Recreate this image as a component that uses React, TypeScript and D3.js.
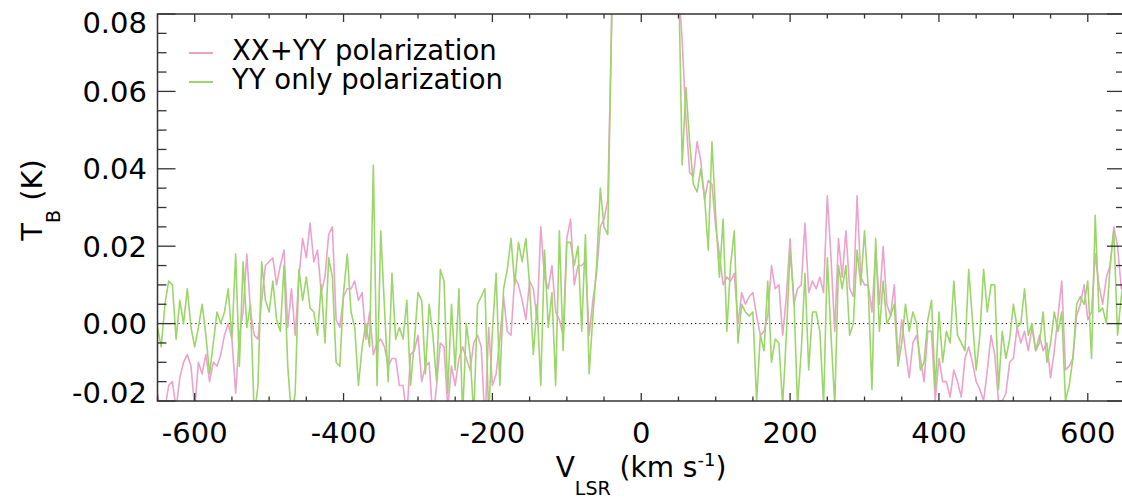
import React from "react";
import * as d3 from "d3";

// Channel grid of the spectra (km/s)
const V_START = -650;
const V_STEP = 5;

// XX+YY polarization brightness temperature, in mK, one value per channel
const xxYyMilliK = [
  -18, -24, -22, -16, -15, -22, -14, -10, -8, -11,
  -22, -10, -13, -8, -15, -10, -11, -8, -3, 0,
  -4, -18, -3, 3, 18, 3, -3, -4, 6, 15,
  16, 17, 10, 15, 19, -1, 9, -3, 12, 22,
  17, 26, 16, 19, 8, 12, 23, 25, 1, -1,
  7, 9, 9, 11, 6, 8, -4, 3, -8, -5,
  -4, -6, -11, -9, -9, -16,
  -16, -24, -8, -7, -3, -15, -11, -10, -25, -16,
  -5, -6, -22, -11, -16, -9, -6, -9, -12, -5,
  -3, -6, -26, -1, -16, -13, -4, 7, -2, -3,
  12, 10, 6, 1, 11, 9, 1, 25,
  12, 9, 15, 3, 1, -3, 22, 27, 10, 15,
  15, 16, -3, 6, 13, 25, 27, 32, 75,
  130, 220, 350, 500, 700, 900, 1050, 1150, 1200, 1150,
  1000, 800, 600, 400, 250, 160, 110, 88,
  73, 53, 39, 38, 47, 42, 32, 37, 36, 25,
  18, 10, 12, 11, 13, 0, 8, 5, 7, 8,
  2, -3, -2, 2, 15, 9, 10, -3, 7, 22,
  5, 9, 10, 26, 8, 11, 9, 12, 8, 33,
  17, -2, 22, 12, 24, 9, 7, 33, 12, 10,
  10, 3, 19,
  5, 20, 5, 2, 10, -9, 1, -7, -14, -5,
  -3, -9, -15, -2, -2, -20, -9, -15, -15, -19,
  -12, -15, -19, -9, -6, -10, -15, -17, -20, -12,
  -3, -8, -20, -20, -18, -10, -9, -1, -5, -2,
  -7, -1, -7, -3, -7, -5, -14, -7, 2, 11,
  -12, -11, -9, 2, 5, 10, 1, 3, 18, 10,
  5, 12, 15, 25, 20, 9, 12,
];

// YY only polarization brightness temperature, in mK, one value per channel
const yyOnlyMilliK = [
  -1, -6, 5, 11, 10, -4, 6, 0, 9, -1,
  -6, -1, 5, -3, -13, -5, 3, 0, 3, 9,
  -4, 18, -11, 16, -1, 5, -24, -16, 16, 6,
  3, 11, 1, -2, 15, -11, -24, -18, 14, 6,
  12, 4, 3, -3, 10, -5, 17, 12, -10, -11,
  8, 18, 3, -1, -16, -6, 0, -6, 41, -16,
  24, 4, -15, 13, -4, -1,
  -4, 6, -16, -5, 8, 6, -13, 5, -3, -15,
  14, 11, -18, 5, -12, 9, -24, 0, -8, -24,
  5, 7, 9, -24, -2, 13, -16, 9, 14, 22,
  10, 21, 16, 22, 10, -8, 5, -16,
  19, -1, 8, -16, 24, -7, 21, 21, 15, 20,
  -2, 23, -13, 2, 15, 35, 25, 23, 77,
  135, 225, 355, 505, 705, 905, 1055, 1155, 1205, 1155,
  1005, 805, 605, 405, 255, 165, 115, 92,
  41, 61, 47, 36, 34, 40, 33, 19, 47, 28,
  12, 27, -2, 15, 24, -5, 5, 3, 2, 3,
  -20, -3, -7, 11, -10, -4, -5, -21, -3, 19,
  7, -21, -7, 13, -12, 3, 3, -2, -21, 17,
  -3, -21, 15, 9, 15, -3, 0, 19, 10, 24,
  9, -17, 22,
  -2, 11, 0, 2, 5, -11, -5, 5, -2, 3,
  0, -12, -10, 1, 6, -17, 3, -10, -2, -5,
  11, -3, -5, -7, 14, 1, -12, -3, 14, 3,
  10, 10, -17, -2, -9, -4, 5, -1, 0, 9,
  -3, 0, -7, -5, 3, -10, -5, 3, -2, 3,
  -20, -16, -9, 5, 7, 5, 11, -9, 28, 3,
  4, 0, 15, 24, -3, 7, 14,
];

const xMajorTicks = [-600, -400, -200, 0, 200, 400, 600];
const yMajorTicks = [-0.02, 0, 0.02, 0.04, 0.06, 0.08];
const yTickLabels = ["-0.02", "0.00", "0.02", "0.04", "0.06", "0.08"];
const seriesNames = ["XX+YY polarization", "YY only polarization"];
const seriesColors = ["#eba3cb", "#9cd66a"];

const FONT = "DejaVu Sans";

export default function App() {
  const W = 1122;
  const H = 504;
  const left = 157.5;
  const right = 1125;
  const top = 14;
  const bottom = 401;

  const x = d3.scaleLinear().domain([-650, 650]).range([left, right]);
  const y = d3.scaleLinear().domain([-0.02, 0.08]).range([bottom, top]);

  const series = [xxYyMilliK, yyOnlyMilliK].map((arr) =>
    arr.map((mk, i) => ({ v: V_START + i * V_STEP, t: mk / 1000 }))
  );

  const line = d3
    .line<{ v: number; t: number }>()
    .x((d) => x(d.v))
    .y((d) => y(d.t));

  const xMinor = d3.range(-650, 651, 50);
  const yMinor = d3.range(0, 21).map((i) => -0.02 + i * 0.005);

  const axisColor = "#333";

  return (
    <svg
      width={W}
      height={H}
      style={{ position: "absolute", left: 0, top: 0, background: "#fff" }}
      fontFamily={FONT}
    >
      <defs>
        <clipPath id="plotClip">
          <rect x={left} y={top} width={right - left} height={bottom - top} />
        </clipPath>
      </defs>

      {/* zero line */}
      <line
        x1={left}
        x2={right}
        y1={y(0)}
        y2={y(0)}
        stroke="#000"
        strokeWidth={1}
        strokeDasharray="1.2,3"
      />

      {/* series */}
      <g clipPath="url(#plotClip)">
        {series.map((s, i) => (
          <path
            key={i}
            d={line(s) || ""}
            fill="none"
            stroke={seriesColors[i]}
            strokeWidth={1.6}
            strokeLinejoin="round"
          />
        ))}
      </g>

      {/* frame */}
      <rect
        x={left}
        y={top}
        width={right - left}
        height={bottom - top}
        fill="none"
        stroke={axisColor}
        strokeWidth={1.5}
      />

      {/* x ticks */}
      {xMinor.map((v) => {
        const major = xMajorTicks.includes(v);
        const len = major ? 8 : 4.5;
        return (
          <g key={"xt" + v}>
            <line x1={x(v)} x2={x(v)} y1={bottom} y2={bottom - len} stroke={axisColor} strokeWidth={1.3} />
            <line x1={x(v)} x2={x(v)} y1={top} y2={top + len} stroke={axisColor} strokeWidth={1.3} />
          </g>
        );
      })}

      {/* y ticks */}
      {yMinor.map((t, i) => {
        const major = i % 4 === 0;
        const len = major ? 18 : 9;
        return (
          <g key={"yt" + i}>
            <line x1={left} x2={left + len} y1={y(t)} y2={y(t)} stroke={axisColor} strokeWidth={1.3} />
            <line x1={right} x2={right - len} y1={y(t)} y2={y(t)} stroke={axisColor} strokeWidth={1.3} />
          </g>
        );
      })}

      {/* x tick labels */}
      {xMajorTicks.map((v) => (
        <text key={"xl" + v} x={x(v)} y={443} textAnchor="middle" fontSize={29} fill="#000">
          {String(v)}
        </text>
      ))}

      {/* y tick labels */}
      {yMajorTicks.map((t, i) => {
        let cy = y(t);
        if (i === yMajorTicks.length - 1) cy += 8.5;
        if (i === 0) cy -= 9;
        return (
          <text key={"yl" + i} x={147} y={cy + 10.5} textAnchor="end" fontSize={29} fill="#000">
            {yTickLabels[i]}
          </text>
        );
      })}

      {/* x title */}
      <text x={641} y={477} textAnchor="middle" fontSize={28} fill="#000">
        V
        <tspan fontSize={19} dy={18}>LSR</tspan>
        <tspan dy={-18}> (km s</tspan>
        <tspan fontSize={18} dy={-11}>-1</tspan>
        <tspan dy={11}>)</tspan>
      </text>

      {/* y title */}
      <text transform="translate(42,200) rotate(-90)" textAnchor="middle" fontSize={29} fill="#000">
        T
        <tspan fontSize={19} dy={18}>B</tspan>
        <tspan dy={-18}> (K)</tspan>
      </text>

      {/* legend */}
      {seriesNames.map((name, i) => (
        <g key={"lg" + i}>
          <line x1={189} x2={213} y1={53 + i * 29} y2={53 + i * 29} stroke={seriesColors[i]} strokeWidth={2} />
          <text x={232} y={60 + i * 29} fontSize={27.5} fill="#000">
            {name}
          </text>
        </g>
      ))}
    </svg>
  );
}
